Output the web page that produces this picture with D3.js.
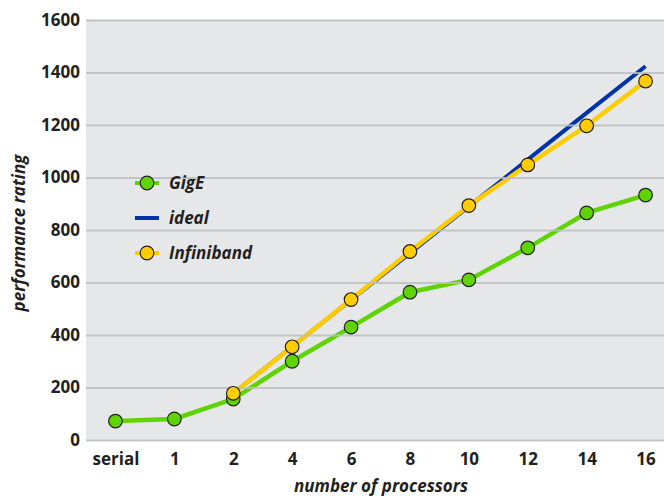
<!DOCTYPE html>
<html><head><meta charset="utf-8">
<script src="https://cdn.jsdelivr.net/npm/d3@7"></script>
<style>
body{margin:0;background:#fff;}
text{font-family:"Open Sans",sans-serif;fill:#231f20;}
</style></head>
<body><svg id="c" width="664" height="496"></svg>
<script>
const categories = ["serial","1","2","4","6","8","10","12","14","16"];
const gigE = [72, 80, 156, 300, 430, 563, 610, 732, 865, 933];
const infiniband = [null, null, 178, 355, 535, 718, 893, 1048, 1197, 1367];
const ideal = [null, null, 178, 356, 534, 712, 890, 1068, 1246, 1424];
const yTicks = [0,200,400,600,800,1000,1200,1400,1600];
const seriesNames = ["GigE","ideal","Infiniband"];

const svg = d3.select("#c");
const pL = 86, pR = 664, pT = 20, pB = 440;
const x = d3.scalePoint().domain(categories).range([pL, 675]).padding(0.5);
const y = d3.scaleLinear().domain([0,1600]).range([pB, pT]);

svg.append("rect").attr("x", pL).attr("y", pT).attr("width", pR-pL).attr("height", pB-pT+1).attr("fill","#e6e7e9");

const lineGen = d3.line().defined(d => d.v != null).x(d => x(d.c)).y(d => y(d.v));
const mk = arr => categories.map((c,i) => ({c, v: arr[i]}));

svg.append("path").datum(mk(ideal)).attr("d", lineGen).attr("fill","none").attr("stroke","#0033a8").attr("stroke-width",4);
svg.append("path").datum(mk(gigE)).attr("d", lineGen).attr("fill","none").attr("stroke","#5fd400").attr("stroke-width",4.5);
svg.append("path").datum(mk(infiniband)).attr("d", lineGen).attr("fill","none").attr("stroke","#ffcc00").attr("stroke-width",4.5);

// gridlines
const yAxis = d3.axisLeft(y).tickValues(yTicks).tickSize(-(pR-pL)).tickPadding(6).tickFormat(d3.format("d"));
const ga = svg.append("g").attr("transform",`translate(${pL},0)`).call(yAxis);
ga.select(".domain").remove();
ga.selectAll("line").attr("stroke","#bcbdc0").attr("stroke-width",2).attr("opacity",0.85);
ga.selectAll("text").attr("font-size",17).attr("font-weight",700).attr("fill","#231f20").attr("x",-6).attr("dy","0.3em");

// markers
const drawMarkers = (arr, fill) => svg.append("g").selectAll("circle").data(mk(arr).filter(d => d.v != null)).join("circle")
  .attr("cx", d => x(d.c)).attr("cy", d => y(d.v)).attr("r",6.8).attr("fill",fill).attr("stroke","#231f20").attr("stroke-width",1.2);
drawMarkers(gigE, "#5fd400");
drawMarkers(infiniband, "#ffcc00");

// x axis
const xAxis = d3.axisBottom(x).tickSize(0).tickPadding(13);
const gx = svg.append("g").attr("transform",`translate(0,${pB})`).call(xAxis);
gx.select(".domain").remove();
gx.selectAll("text").attr("font-size",17).attr("font-weight",700).attr("fill","#231f20");

// titles
svg.append("text").attr("x",381).attr("y",492).attr("text-anchor","middle").attr("font-size",17).attr("font-weight",700).attr("font-style","italic").text("number of processors");
svg.append("text").attr("transform","translate(25,233) rotate(-90)").attr("text-anchor","middle").attr("font-size",17).attr("font-weight",700).attr("font-style","italic").text("performance rating");

// legend
const legColors = ["#5fd400","#0033a8","#ffcc00"];
const legMarker = [true,false,true];
const legY = [183, 218, 253];
const lg = svg.append("g");
seriesNames.forEach((n,i) => {
  lg.append("line").attr("x1",135).attr("x2",159).attr("y1",legY[i]).attr("y2",legY[i]).attr("stroke",legColors[i]).attr("stroke-width",4);
  if (legMarker[i]) lg.append("circle").attr("cx",147).attr("cy",legY[i]).attr("r",6.8).attr("fill",legColors[i]).attr("stroke","#231f20").attr("stroke-width",1.2);
  lg.append("text").attr("x",169).attr("y",legY[i]).attr("dy","0.35em").attr("font-size",17).attr("font-weight",700).attr("font-style","italic").text(n);
});
</script></body></html>
